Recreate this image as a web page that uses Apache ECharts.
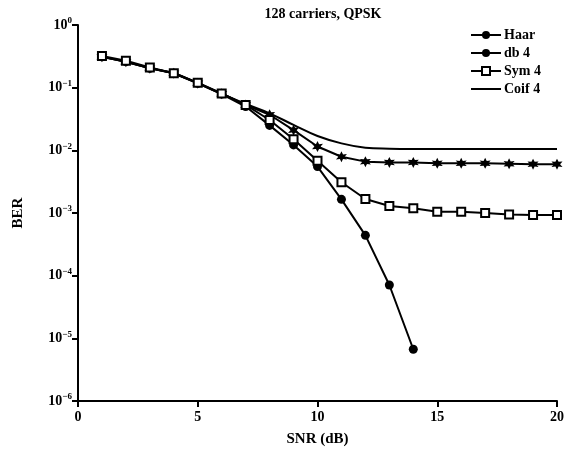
<!DOCTYPE html>
<html>
<head>
<meta charset="utf-8">
<script src="https://cdn.jsdelivr.net/npm/echarts@6/dist/echarts.min.js"></script>
<style>html,body{margin:0;padding:0;background:#fff}#c{width:568px;height:462px}</style>
</head>
<body>
<div id="c"></div>
<script>
var snr = [1,2,3,4,5,6,7,8,9,10,11,12,13,14,15,16,17,18,19,20];
var haar = [0.31,0.26,0.204,0.17,0.117,0.079,0.05,0.025,0.0122,0.0055,0.00165,0.00044,0.000071,0.0000067];
var db4 = [0.31,0.26,0.205,0.17,0.118,0.08,0.053,0.037,0.021,0.0115,0.0079,0.0066,0.0064,0.0064,0.0062,0.0062,0.0062,0.0061,0.006,0.006];
var sym4 = [0.32,0.27,0.21,0.17,0.12,0.081,0.053,0.0305,0.015,0.0068,0.0031,0.00167,0.00129,0.00119,0.00105,0.00105,0.001,0.00095,0.00093,0.00093];
var coif4 = [0.31,0.26,0.205,0.17,0.118,0.08,0.055,0.039,0.0254,0.0169,0.0129,0.011,0.0106,0.0105,0.0105,0.0105,0.0105,0.0105,0.0105,0.0105];
var xTicks = [0,5,10,15,20];
var seriesNames = ['Haar','db 4','Sym 4','Coif 4'];

var FONT = 'Liberation Serif';
var star = 'path://M0,-10L2.5,-4.3L8.7,-5L4.9,0L8.7,5L2.5,4.3L0,10L-2.5,4.3L-8.7,5L-4.9,0L-8.7,-5L-2.5,-4.3Z';

function pairs(ys){ return ys.map(function(y,i){ return [snr[i], y]; }); }

var chart = echarts.init(document.getElementById('c'), null, {renderer:'canvas'});
var lineStyle = {color:'#000', width:2};
chart.setOption({
  animation:false,
  backgroundColor:'#fff',
  title:{text:'128 carriers, QPSK', left:318, top:2, textAlign:'center',
    textStyle:{fontFamily:FONT, fontSize:14, fontWeight:'bold', color:'#000'}},
  legend:{
    data:[
      {name:seriesNames[0]},
      {name:seriesNames[1]},
      {name:seriesNames[2]},
      {name:seriesNames[3], icon:'path://M0,0H30V2H0Z'}
    ],
    orient:'vertical', left:465, top:23, itemGap:4,
    itemWidth:30, itemHeight:10, symbolKeepAspect:true,
    textStyle:{fontFamily:FONT, fontSize:14, fontWeight:'bold', color:'#000', padding:[0,0,0,-2]}
  },
  grid:{left:78, right:11, top:25, bottom:61},
  xAxis:{
    type:'value', min:0, max:20, interval:5,
    name:'SNR (dB)', nameLocation:'middle', nameGap:31,
    nameTextStyle:{fontFamily:FONT, fontSize:15, fontWeight:'bold', color:'#000'},
    axisLine:{lineStyle:{color:'#000', width:2}},
    axisTick:{inside:false, length:6, lineStyle:{color:'#000', width:2}},
    axisLabel:{fontFamily:FONT, fontSize:14, fontWeight:'bold', color:'#000', margin:9},
    splitLine:{show:false}
  },
  yAxis:{
    type:'log', logBase:10, min:1e-6, max:1,
    name:'BER', nameLocation:'middle', nameGap:52, nameRotate:90,
    nameTextStyle:{fontFamily:FONT, fontSize:15, fontWeight:'bold', color:'#000'},
    axisLine:{lineStyle:{color:'#000', width:2}},
    axisTick:{inside:false, length:6, lineStyle:{color:'#000', width:2}},
    axisLabel:{margin:6, color:'#000',
      formatter:function(v){
        var e = Math.round(Math.log(v)/Math.LN10);
        return '{b|10}{s|' + (e<0 ? '\u2212'+(-e) : e) + '}';
      },
      rich:{
        b:{fontFamily:FONT, fontSize:14, fontWeight:'bold', color:'#000'},
        s:{fontFamily:FONT, fontSize:9, fontWeight:'bold', color:'#000', verticalAlign:'top', padding:[0,0,8,0]}
      }
    },
    splitLine:{show:false}
  },
  series:[
    {name:'Haar', type:'line', data:pairs(haar), symbol:'circle', symbolSize:9,
      itemStyle:{color:'#000'}, lineStyle:lineStyle, z:3},
    {name:'db 4', type:'line', symbol:'circle', symbolSize:9,
      data:pairs(db4).map(function(p){ return {value:p, symbol:star, symbolSize:11}; }),
      itemStyle:{color:'#000'}, lineStyle:lineStyle, z:2},
    {name:'Sym 4', type:'line', data:pairs(sym4), symbol:'rect', symbolSize:8,
      itemStyle:{color:'#fff', borderColor:'#000', borderWidth:2}, lineStyle:lineStyle, z:4},
    {name:'Coif 4', type:'line', data:pairs(coif4), symbol:'none', smooth:0.4,
      itemStyle:{color:'#000'}, lineStyle:lineStyle, z:1}
  ]
});
</script>
</body>
</html>
